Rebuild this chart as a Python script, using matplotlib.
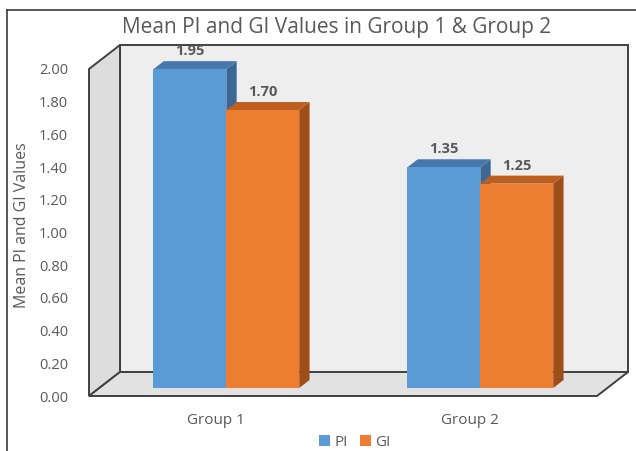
import numpy as np
import matplotlib.pyplot as plt
from matplotlib.patches import Polygon, Patch
from matplotlib.lines import Line2D
from matplotlib.transforms import offset_copy

plt.rcParams['font.family'] = ['Open Sans', 'DejaVu Sans']

# data
groups = ["Group 1", "Group 2"]
series = ["PI", "GI"]
pi_vals = [1.95, 1.35]
gi_vals = [1.70, 1.25]
y_ticks = [0.0, 0.2, 0.4, 0.6, 0.8, 1.0, 1.2, 1.4, 1.6, 1.8, 2.0]

front_cols = ["#5B9BD5", "#ED7D31"]
top_cols = ["#4678AC", "#BD5F21"]
side_cols = ["#3B6894", "#9F4E19"]
text_col = "#595959"
edge_col = "#404040"

W, H = 636, 451
DEPTH = np.array([31.0, 24.0])   # oblique depth of the box, in pixels
BAR_F, BAR_B = 1/3, 2/3          # bar front/back as fraction of the depth
bar_w = 0.287

fig = plt.figure(figsize=(W/100, H/100), dpi=100)
ax = fig.add_axes([89/W, 55/H, 508/W, 327/H])
ax.set_xlim(-0.5, 1.5)
ax.set_ylim(0, 2.0)
ax.patch.set_visible(False)
for s in ax.spines.values():
    s.set_visible(False)


def pt(x, y, f):
    """data point pushed back by fraction f of the box depth"""
    disp = ax.transData.transform((x, y)) + DEPTH * f
    return ax.transData.inverted().transform(disp)


def face(pts, fc, ec="none", lw=0, z=1):
    poly = Polygon([pt(*p) for p in pts], closed=True, facecolor=fc,
                   edgecolor=ec, linewidth=lw, clip_on=False, zorder=z,
                   joinstyle="miter")
    ax.add_patch(poly)


x0, x1 = ax.get_xlim()
y0, y1 = ax.get_ylim()

# walls and floor
face([(x0, y0, 1), (x1, y0, 1), (x1, y1, 1), (x0, y1, 1)], "#EEEEEE", edge_col, 1.4, 1)
face([(x0, y0, 0), (x0, y1, 0), (x0, y1, 1), (x0, y0, 1)], "#DDDDDD", edge_col, 1.4, 1)
face([(x0, y0, 0), (x1, y0, 0), (x1, y0, 1), (x0, y0, 1)], "#E2E2E2", edge_col, 1.4, 1)

# bars
front_tr = offset_copy(ax.transData, fig=fig, x=DEPTH[0]*BAR_F, y=DEPTH[1]*BAR_F, units='dots')
label_tr = offset_copy(ax.transData, fig=fig, x=DEPTH[0]*BAR_F,
                       y=DEPTH[1]*BAR_B + 6, units='dots')
for i, g in enumerate(groups):
    for k, vals in enumerate([pi_vals, gi_vals]):
        v = vals[i]
        left = i - bar_w if k == 0 else i
        right = left + bar_w
        face([(right, 0, BAR_F), (right, v, BAR_F), (right, v, BAR_B), (right, 0, BAR_B)],
             side_cols[k], z=3)
        face([(left, v, BAR_F), (right, v, BAR_F), (right, v, BAR_B), (left, v, BAR_B)],
             top_cols[k], z=3)
        ax.bar(left, v, width=bar_w, align='edge', color=front_cols[k],
               transform=front_tr, clip_on=False, zorder=3)
        ax.text(left + bar_w/2, v, f"{v:.2f}", transform=label_tr, ha='center',
                va='baseline', fontsize=10.5, fontweight='bold', color=text_col, zorder=5)

# axes text
ax.set_yticks(y_ticks)
ax.set_yticklabels([f"{t:.2f}" for t in y_ticks])
ax.set_xticks(range(len(groups)))
ax.set_xticklabels(groups)
ax.tick_params(axis='y', length=0, pad=15, labelsize=10.5, labelcolor=text_col)
ax.tick_params(axis='x', length=0, pad=12, labelsize=11, labelcolor=text_col)

fig.text(22/W, 1 - 225/H, "Mean PI and GI Values", rotation=90, ha='center',
         va='center', fontsize=11.5, color=text_col)
fig.text(337/W, 1 - 28/H, "Mean PI and GI Values in Group 1 & Group 2",
         ha='center', va='center', fontsize=15, color=text_col)

handles = [Patch(facecolor=c, edgecolor='none') for c in front_cols]
fig.legend(handles, series, loc='center', bbox_to_anchor=(355/W, 1 - 442/H), ncol=2,
           frameon=False, fontsize=11, handlelength=0.7, handleheight=0.7,
           handletextpad=0.3, columnspacing=0.8, labelcolor=text_col)

# chart area border
fig.add_artist(Line2D([7/W, 7/W], [0, 1 - 10/H], color="#3a3a3a", lw=1.2))
fig.add_artist(Line2D([7/W, 1], [1 - 10/H, 1 - 10/H], color="#3a3a3a", lw=1.2))

fig.savefig("out.png", dpi=100)
